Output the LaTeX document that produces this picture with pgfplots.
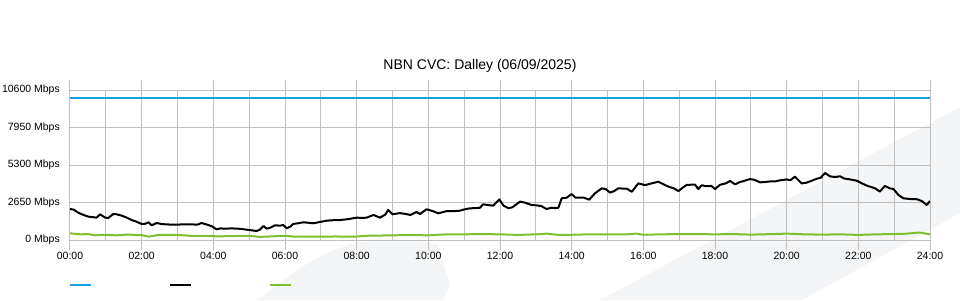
\documentclass[border=0pt]{standalone}
\usepackage{fontspec}
\setmainfont{Liberation Sans}
\usepackage{pgfplots}
\usepackage{pgfplotstable}
\pgfplotsset{compat=1.18}
\definecolor{cblue}{RGB}{20,162,228}
\definecolor{cgreen}{RGB}{125,192,45}
\definecolor{gridgray}{RGB}{192,192,192}
\definecolor{bgband}{RGB}{244,245,247}

\pgfplotstableread{
h v
0 10000
24 10000
}\capacity

\pgfplotstableread{
h v
0.00 2190
0.10 2150
0.23 1930
0.35 1800
0.51 1650
0.62 1620
0.74 1580
0.84 1815
0.98 1580
1.07 1560
1.21 1840
1.29 1820
1.45 1720
1.60 1560
1.72 1413
1.85 1300
2.00 1130
2.10 1150
2.19 1250
2.28 1040
2.42 1200
2.55 1130
2.65 1110
2.80 1090
3.02 1090
3.20 1110
3.40 1110
3.55 1080
3.67 1200
3.86 1060
3.97 950
4.09 755
4.20 820
4.33 800
4.50 820
4.70 800
4.90 740
5.07 685
5.21 636
5.30 730
5.40 990
5.49 800
5.60 880
5.72 1040
5.86 1010
5.95 1060
6.05 825
6.15 950
6.23 1130
6.40 1200
6.51 1250
6.65 1220
6.79 1180
6.95 1260
7.16 1365
7.35 1400
7.53 1410
7.75 1470
8.00 1580
8.15 1560
8.28 1580
8.47 1770
8.65 1580
8.80 1800
8.88 2120
9.00 1815
9.20 1900
9.35 1850
9.50 1770
9.67 1980
9.77 1840
9.95 2170
10.14 2030
10.28 1885
10.51 2040
10.70 2040
10.88 2070
11.00 2160
11.16 2240
11.30 2250
11.44 2280
11.53 2520
11.70 2460
11.81 2425
11.98 2870
12.10 2425
12.24 2240
12.35 2320
12.56 2710
12.70 2640
12.88 2470
13.02 2450
13.15 2400
13.30 2190
13.44 2280
13.55 2260
13.63 2280
13.72 2945
13.86 2990
14.00 3250
14.10 3000
14.34 2990
14.49 2850
14.65 3300
14.84 3650
14.95 3600
15.07 3350
15.18 3450
15.30 3650
15.54 3620
15.68 3410
15.86 4000
16.05 3880
16.23 4000
16.42 4120
16.55 3950
16.70 3770
16.85 3650
16.98 3460
17.10 3700
17.21 3890
17.44 3920
17.53 3600
17.63 3870
17.75 3800
17.90 3820
18.00 3600
18.14 3900
18.30 4000
18.42 4170
18.56 3935
18.70 4100
18.79 4160
18.98 4310
19.10 4250
19.26 4075
19.40 4100
19.54 4140
19.70 4150
19.82 4220
20.00 4280
20.10 4220
20.23 4475
20.42 4000
20.55 4050
20.65 4140
20.84 4330
20.95 4400
21.07 4735
21.21 4500
21.35 4450
21.49 4500
21.60 4350
21.77 4280
21.96 4190
22.10 4000
22.24 3840
22.35 3750
22.47 3650
22.60 3420
22.74 3820
22.88 3650
22.98 3600
23.12 3180
23.26 2945
23.44 2900
23.63 2880
23.77 2755
23.91 2470
24.00 2755
}\traffic

\pgfplotstableread{
h v
0.0 470
0.3 400
0.5 420
0.7 330
1.0 370
1.3 330
1.6 380
2.0 340
2.2 240
2.5 370
3.0 360
3.4 290
3.9 300
4.1 250
4.5 280
5.0 290
5.3 220
5.6 250
6.0 300
6.3 230
7.0 230
7.4 250
7.9 230
8.3 300
9.0 330
9.5 350
10.0 330
10.5 400
11.0 400
11.5 420
12.0 400
12.5 360
13.0 400
13.3 450
13.6 370
14.0 370
14.5 400
15.0 400
15.5 390
15.8 450
16.0 370
16.5 400
17.0 420
17.5 420
18.0 400
18.5 420
19.0 380
19.5 410
20.0 450
20.5 400
21.0 380
21.5 400
22.0 360
22.5 400
23.0 420
23.3 440
23.7 530
24.0 400
}\upload

\begin{document}
\begin{tikzpicture}[x=1pt,y=1pt]
\path[use as bounding box] (0,0) rectangle (960,300);
\fill[bgband] (600,0) -- (960,193) -- (960,87) -- (802,0) -- cycle;
\fill[bgband] (257,0) .. controls (290,25) and (320,50) .. (360,58)
  .. controls (390,61) and (425,60) .. (437,55) -- (443,38) -- (450,15) -- (443,0) -- cycle;
\begin{axis}[
  at={(70pt,60pt)}, anchor=south west,
  scale only axis, width=860pt, height=150pt,
  xmin=0, xmax=24, ymin=0, ymax=10600,
  scaled y ticks=false, scaled x ticks=false,
  xtick={0,2,...,24},
  xticklabels={00:00,02:00,04:00,06:00,08:00,10:00,12:00,14:00,16:00,18:00,20:00,22:00,24:00},
  minor x tick num=1,
  ytick={0,2650,5300,7950,10600},
  yticklabels={0 Mbps,2650 Mbps,5300 Mbps,7950 Mbps,10600 Mbps},
  grid=both,
  major grid style={draw=gridgray, line width=1pt},
  minor grid style={draw=gridgray, line width=1pt},
  axis line style={draw=gridgray, line width=1pt},
  tick align=outside,
  major tick length=10pt, minor tick length=0pt,
  xtick style={draw=gridgray, line width=1pt},
  ytick style={draw=none},
  ticklabel style={font=\fontsize{10.5}{12}\selectfont},
  yticklabel style={inner sep=0pt},
  xticklabel style={inner sep=2pt},
  title={NBN CVC: Dalley (06/09/2025)},
  title style={font=\fontsize{14}{16}\selectfont, at={(0.4767,1)}, anchor=base, yshift=14.5pt},
]
\addplot[cblue, line width=2pt] table[x=h,y=v] {\capacity};
\addplot[black, line width=2pt, line join=round] table[x=h,y=v] {\traffic};
\addplot[cgreen, line width=2pt, line join=round] table[x=h,y=v] {\upload};
\end{axis}
\draw[cblue, line width=2pt] (70,15) -- (91,15);
\draw[black, line width=2pt] (170,15) -- (191,15);
\draw[cgreen, line width=2pt] (270,15) -- (291,15);
\end{tikzpicture}
\end{document}
